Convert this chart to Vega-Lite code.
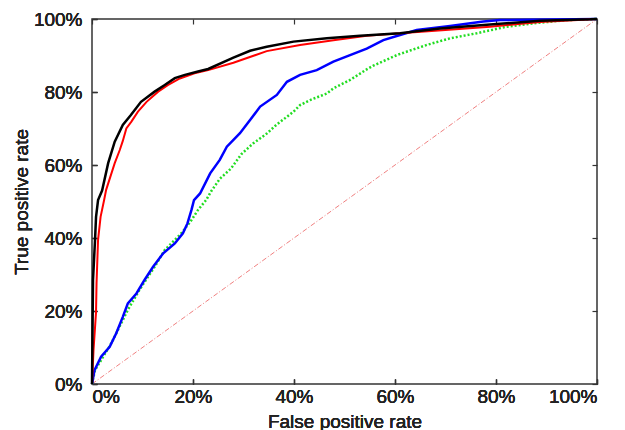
{
  "$schema": "https://vega.github.io/schema/vega-lite/v6.json",
  "autosize": "none",
  "width": 505,
  "height": 365,
  "padding": {"left": 92, "top": 19, "right": 28, "bottom": 46},
  "background": "white",
  "config": {
    "view": {"stroke": "#333333", "strokeWidth": 1.5},
    "font": "Liberation Sans",
    "axis": {
      "grid": false,
      "domain": false,
      "tickColor": "#333333",
      "tickWidth": 1.2,
      "tickSize": -5,
      "labelFont": "Liberation Sans",
      "labelFontSize": 19,
      "labelColor": "#222222",
      "titleFont": "Liberation Sans",
      "titleFontSize": 19,
      "titleFontWeight": "normal",
      "titleColor": "#222222"
    }
  },
  "datasets": {
    "black": [
      {"i":0,"fpr":0,"tpr":0},{"i":1,"fpr":0.2,"tpr":28.5},{"i":2,"fpr":0.4,"tpr":34},{"i":3,"fpr":0.6,"tpr":39.5},{"i":4,"fpr":0.8,"tpr":45.8},{"i":5,"fpr":1.2,"tpr":50.4},{"i":6,"fpr":2.0,"tpr":53},{"i":7,"fpr":3.2,"tpr":60.5},{"i":8,"fpr":4.5,"tpr":66.4},{"i":9,"fpr":6.1,"tpr":71.0},{"i":10,"fpr":7.7,"tpr":73.7},{"i":11,"fpr":9.7,"tpr":77.3},{"i":12,"fpr":12.4,"tpr":80.1},{"i":13,"fpr":14.4,"tpr":81.9},{"i":14,"fpr":16.4,"tpr":83.8},{"i":15,"fpr":18.4,"tpr":84.7},{"i":16,"fpr":21.0,"tpr":85.6},{"i":17,"fpr":23.0,"tpr":86.3},{"i":18,"fpr":28.0,"tpr":89.4},{"i":19,"fpr":31.3,"tpr":91.3},{"i":20,"fpr":34.6,"tpr":92.4},{"i":21,"fpr":39.9,"tpr":93.8},{"i":22,"fpr":46.5,"tpr":94.7},{"i":23,"fpr":53.1,"tpr":95.4},{"i":24,"fpr":61,"tpr":96.1},{"i":25,"fpr":68.9,"tpr":97.4},{"i":26,"fpr":78.8,"tpr":98.5},{"i":27,"fpr":88.7,"tpr":99.5},{"i":28,"fpr":98.6,"tpr":99.9},{"i":29,"fpr":100,"tpr":100}
    ],
    "red": [
      {"i":0,"fpr":0,"tpr":0},{"i":1,"fpr":0.3,"tpr":9.3},{"i":2,"fpr":0.8,"tpr":19.7},{"i":3,"fpr":0.9,"tpr":27.7},{"i":4,"fpr":1.2,"tpr":39.5},{"i":5,"fpr":1.7,"tpr":45.8},{"i":6,"fpr":2.4,"tpr":50.4},{"i":7,"fpr":2.8,"tpr":53.2},{"i":8,"fpr":4.5,"tpr":60.5},{"i":9,"fpr":5.5,"tpr":64.1},{"i":10,"fpr":6.1,"tpr":66.6},{"i":11,"fpr":6.8,"tpr":70.0},{"i":12,"fpr":7.8,"tpr":71.9},{"i":13,"fpr":9.1,"tpr":74.6},{"i":14,"fpr":10.8,"tpr":77.3},{"i":15,"fpr":13.1,"tpr":80.1},{"i":16,"fpr":15.0,"tpr":81.9},{"i":17,"fpr":17.4,"tpr":83.7},{"i":18,"fpr":20.3,"tpr":85.1},{"i":19,"fpr":23,"tpr":86},{"i":20,"fpr":28,"tpr":88.0},{"i":21,"fpr":34.6,"tpr":91.2},{"i":22,"fpr":41.2,"tpr":92.9},{"i":23,"fpr":47.8,"tpr":94.2},{"i":24,"fpr":54.4,"tpr":95.4},{"i":25,"fpr":61,"tpr":96.1},{"i":26,"fpr":70,"tpr":97.0},{"i":27,"fpr":78.8,"tpr":97.9},{"i":28,"fpr":88.7,"tpr":99.2},{"i":29,"fpr":100,"tpr":100}
    ],
    "blue": [
      {"i":0,"fpr":0,"tpr":0},{"i":1,"fpr":0.5,"tpr":3.8},{"i":2,"fpr":1.8,"tpr":7.5},{"i":3,"fpr":3.5,"tpr":10.2},{"i":4,"fpr":4.8,"tpr":13.9},{"i":5,"fpr":6.1,"tpr":18.4},{"i":6,"fpr":7.1,"tpr":22.1},{"i":7,"fpr":8.8,"tpr":24.8},{"i":8,"fpr":10.4,"tpr":28.5},{"i":9,"fpr":12.1,"tpr":32.1},{"i":10,"fpr":14.1,"tpr":35.8},{"i":11,"fpr":16.4,"tpr":38.5},{"i":12,"fpr":18.0,"tpr":41.3},{"i":13,"fpr":18.9,"tpr":44.0},{"i":14,"fpr":19.7,"tpr":47.7},{"i":15,"fpr":20.2,"tpr":50.4},{"i":16,"fpr":21.4,"tpr":52.2},{"i":17,"fpr":23.4,"tpr":57.7},{"i":18,"fpr":25.3,"tpr":61.4},{"i":19,"fpr":26.7,"tpr":65.0},{"i":20,"fpr":29.3,"tpr":68.7},{"i":21,"fpr":31.3,"tpr":72.3},{"i":22,"fpr":33.3,"tpr":76.0},{"i":23,"fpr":36.6,"tpr":79.2},{"i":24,"fpr":38.6,"tpr":82.8},{"i":25,"fpr":41.2,"tpr":84.7},{"i":26,"fpr":44.5,"tpr":86},{"i":27,"fpr":47.8,"tpr":88.3},{"i":28,"fpr":51.1,"tpr":90.1},{"i":29,"fpr":54.4,"tpr":91.9},{"i":30,"fpr":57.7,"tpr":94.2},{"i":31,"fpr":61,"tpr":95.6},{"i":32,"fpr":64.3,"tpr":97},{"i":33,"fpr":70.9,"tpr":98.1},{"i":34,"fpr":77.5,"tpr":99.3},{"i":35,"fpr":80.8,"tpr":99.7},{"i":36,"fpr":100,"tpr":100}
    ],
    "green": [
      {"i":0,"fpr":0,"tpr":0},{"i":1,"fpr":0.6,"tpr":3.8},{"i":2,"fpr":3.8,"tpr":11.1},{"i":3,"fpr":7.1,"tpr":20.3},{"i":4,"fpr":9.4,"tpr":25.8},{"i":5,"fpr":12.4,"tpr":32.1},{"i":6,"fpr":14.4,"tpr":36.7},{"i":7,"fpr":17.7,"tpr":41.3},{"i":8,"fpr":19.7,"tpr":44.9},{"i":9,"fpr":21.0,"tpr":47.7},{"i":10,"fpr":22.6,"tpr":50.4},{"i":11,"fpr":23.6,"tpr":52.8},{"i":12,"fpr":25.3,"tpr":56.2},{"i":13,"fpr":27.5,"tpr":59},{"i":14,"fpr":29.6,"tpr":63},{"i":15,"fpr":31.9,"tpr":65.9},{"i":16,"fpr":34.6,"tpr":68.6},{"i":17,"fpr":36.5,"tpr":71},{"i":18,"fpr":39.9,"tpr":74.6},{"i":19,"fpr":41.2,"tpr":76.4},{"i":20,"fpr":43.2,"tpr":77.8},{"i":21,"fpr":46.5,"tpr":79.6},{"i":22,"fpr":47.8,"tpr":81},{"i":23,"fpr":51.1,"tpr":83.3},{"i":24,"fpr":54.4,"tpr":86.2},{"i":25,"fpr":55.7,"tpr":87.2},{"i":26,"fpr":60.5,"tpr":90.2},{"i":27,"fpr":66.3,"tpr":92.9},{"i":28,"fpr":70.9,"tpr":94.7},{"i":29,"fpr":76.2,"tpr":96.1},{"i":30,"fpr":82.1,"tpr":97.9},{"i":31,"fpr":87.4,"tpr":98.8},{"i":32,"fpr":94,"tpr":99.7},{"i":33,"fpr":100,"tpr":100}
    ],
    "diag": [
      {"i":0,"fpr":0,"tpr":0},{"i":1,"fpr":100,"tpr":100}
    ]
  },
  "encoding": {
    "x": {
      "field": "fpr", "type": "quantitative",
      "scale": {"domain": [0, 100], "nice": false},
      "axis": {"orient": "bottom", "values": [0, 20, 40, 60, 80, 100], "labelExpr": "datum.value + '%'", "title": "False positive rate", "labelPadding": 8, "titlePadding": 6}
    },
    "y": {
      "field": "tpr", "type": "quantitative",
      "scale": {"domain": [0, 100], "nice": false},
      "axis": {"orient": "left", "values": [0, 20, 40, 60, 80, 100], "labelExpr": "datum.value + '%'", "title": "True positive rate", "labelPadding": 15, "titlePadding": 2}
    },
    "order": {"field": "i", "type": "quantitative"}
  },
  "layer": [
    {
      "data": {"name": "diag"},
      "mark": {"type": "line", "color": "#f08080", "strokeWidth": 1, "strokeDash": [5, 2, 1, 2]},
      "encoding": {
        "x": {"field": "fpr", "type": "quantitative", "axis": {"orient": "top", "values": [0, 20, 40, 60, 80, 100], "labels": false, "labelExpr": "''", "title": null}},
        "y": {"field": "tpr", "type": "quantitative", "axis": {"orient": "right", "values": [0, 20, 40, 60, 80, 100], "labels": false, "labelExpr": "''", "title": null}}
      }
    },
    {
      "data": {"name": "green"},
      "mark": {"type": "line", "color": "#22dd22", "strokeWidth": 2.5, "strokeDash": [2, 2]}
    },
    {
      "data": {"name": "blue"},
      "mark": {"type": "line", "color": "#0000ff", "strokeWidth": 2.5}
    },
    {
      "data": {"name": "red"},
      "mark": {"type": "line", "color": "#ff0000", "strokeWidth": 2}
    },
    {
      "data": {"name": "black"},
      "mark": {"type": "line", "color": "#000000", "strokeWidth": 2.5}
    }
  ],
  "resolve": {"axis": {"x": "independent", "y": "independent"}}
}
